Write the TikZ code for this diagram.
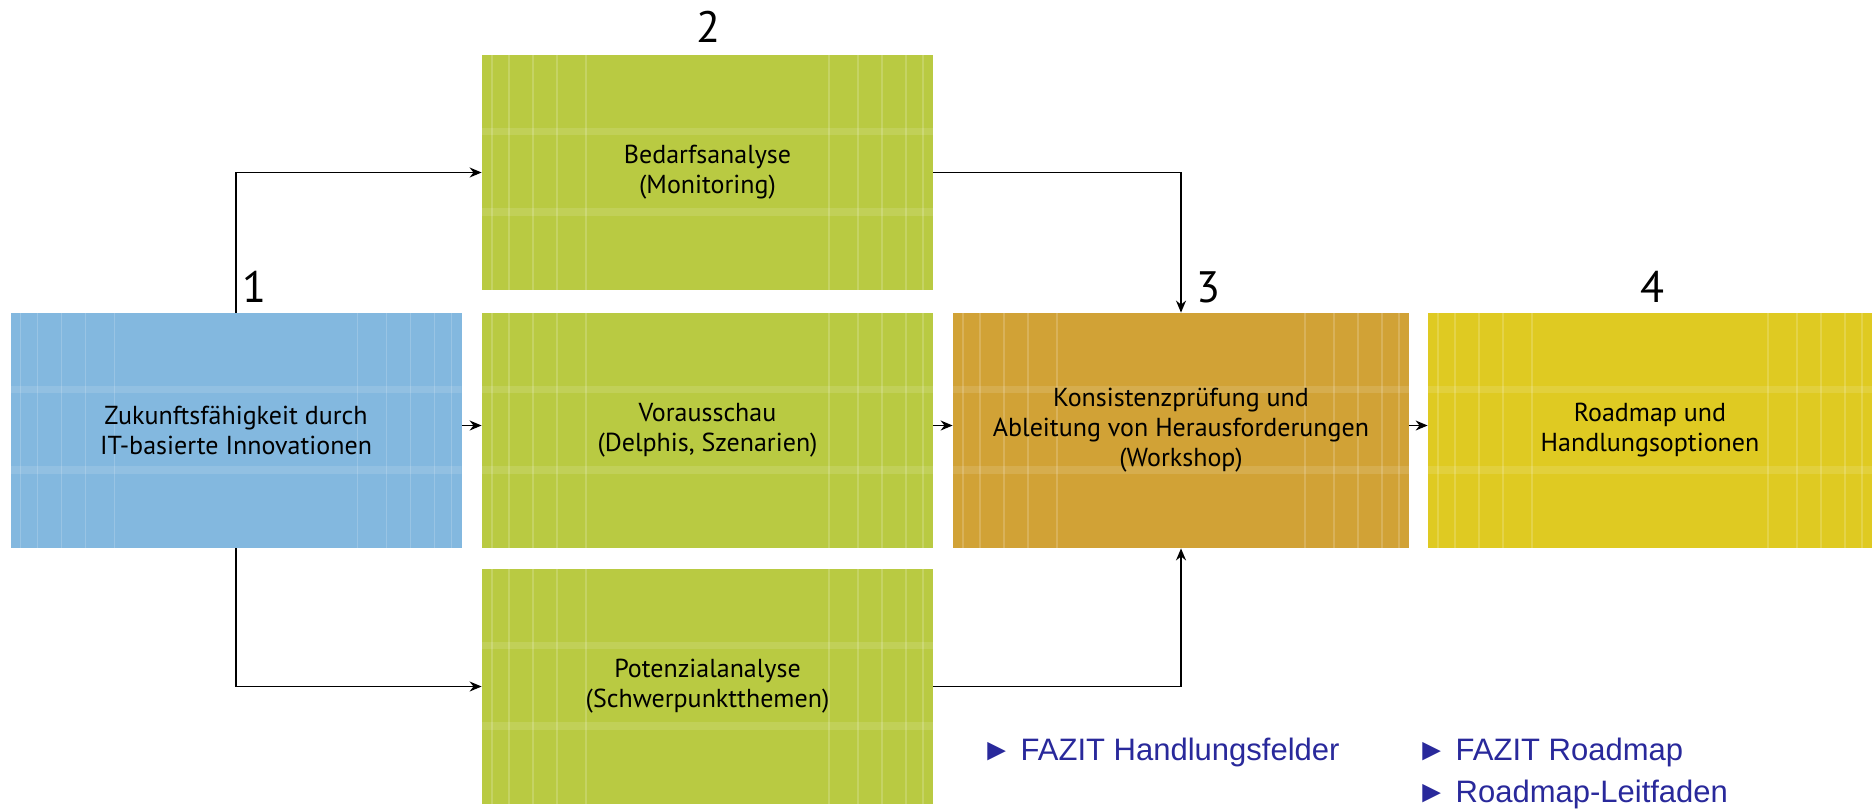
\documentclass[tikz,border=0pt]{standalone}
\usepackage{fontspec}
\setmainfont{PT Sans}
\newfontfamily\linkfont{Liberation Sans}
\usetikzlibrary{arrows.meta}

\definecolor{zblue}{HTML}{83B8DF}
\definecolor{zgreen}{HTML}{B9CA42}
\definecolor{zorange}{HTML}{D1A236}
\definecolor{zyellow}{HTML}{DFCA22}
\definecolor{linkblue}{HTML}{29299B}

\begin{document}
\begin{tikzpicture}[
  x=0.5pt, y=-0.5pt,
  stripe/.style={draw=white, draw opacity=0.18, line width=0.9pt},
  band/.style={fill=white, fill opacity=0.12},
  box/.style={minimum width=225.5pt, minimum height=117.5pt, inner sep=0pt, align=center,
    font=\fontsize{13}{15}\selectfont, text=black,
    path picture={
      \foreach \d in {5,13.5,25.5,37.5,52} {
        \draw[stripe] ([xshift=\d pt]path picture bounding box.north west) -- ([xshift=\d pt]path picture bounding box.south west);
        \draw[stripe] ([xshift=-\d pt]path picture bounding box.north east) -- ([xshift=-\d pt]path picture bounding box.south east);
      }
      \fill[band] ([yshift=-36.5pt]path picture bounding box.north west) rectangle ([yshift=-40pt]path picture bounding box.north east);
      \fill[band] ([yshift=-76.5pt]path picture bounding box.north west) rectangle ([yshift=-80.5pt]path picture bounding box.north east);
    }},
  num/.style={font=\fontsize{22}{24}\selectfont, inner sep=0pt},
  link/.style={font=\linkfont\fontsize{15.5}{17}\selectfont, text=linkblue, anchor=west, inner sep=0pt},
  line/.style={-{Stealth[length=6pt,width=5pt]}, line width=0.75pt}
]
\useasboundingbox (0,0) rectangle (1872,810);

\node[box, fill=zblue] (zukunft) at (236,430.5) {Zukunftsfähigkeit durch\\IT-basierte Innovationen};
\node[box, fill=zgreen] (bedarf) at (707.5,172.5) {Bedarfsanalyse\\(Monitoring)};
\node[box, fill=zgreen] (voraus) at (707.5,430.5) {Vorausschau\\(Delphis, Szenarien)};
\node[box, fill=zgreen] (potenzial) at (707.5,686.5) {Potenzialanalyse\\(Schwerpunktthemen)};
\node[box, fill=zorange, minimum width=228pt] (konsistenz) at (1181,430.5) {Konsistenzprüfung und\\Ableitung von Herausforderungen\\(Workshop)};
\node[box, fill=zyellow, minimum width=222pt] (roadmap) at (1650,430.5) {Roadmap und\\Handlungsoptionen};

\node[num] (num1) at (254,287) {1};
\node[num] (num2) at (708,27) {2};
\node[num] (num3) at (1208,287) {3};
\node[num] (num4) at (1652,287) {4};

\draw[line] ([yshift=2.5pt]zukunft.east) -- ([yshift=2.5pt]voraus.west);
\draw[line] ([yshift=2.5pt]voraus.east) -- ([yshift=2.5pt]konsistenz.west);
\draw[line] ([yshift=2.5pt]konsistenz.east) -- ([yshift=2.5pt]roadmap.west);
\draw[line] (zukunft.north) |- (bedarf.west);
\draw[line] (zukunft.south) |- (potenzial.west);
\draw[line] (bedarf.east) -| (konsistenz.north);
\draw[line] (potenzial.east) -| (konsistenz.south);

\node[link] (felder) at (981,752) {► FAZIT Handlungsfelder};
\node[link] (fazitmap) at (1416,752) {► FAZIT Roadmap};
\node[link] (leitfaden) at (1416,794) {► Roadmap-Leitfaden};
\end{tikzpicture}
\end{document}
